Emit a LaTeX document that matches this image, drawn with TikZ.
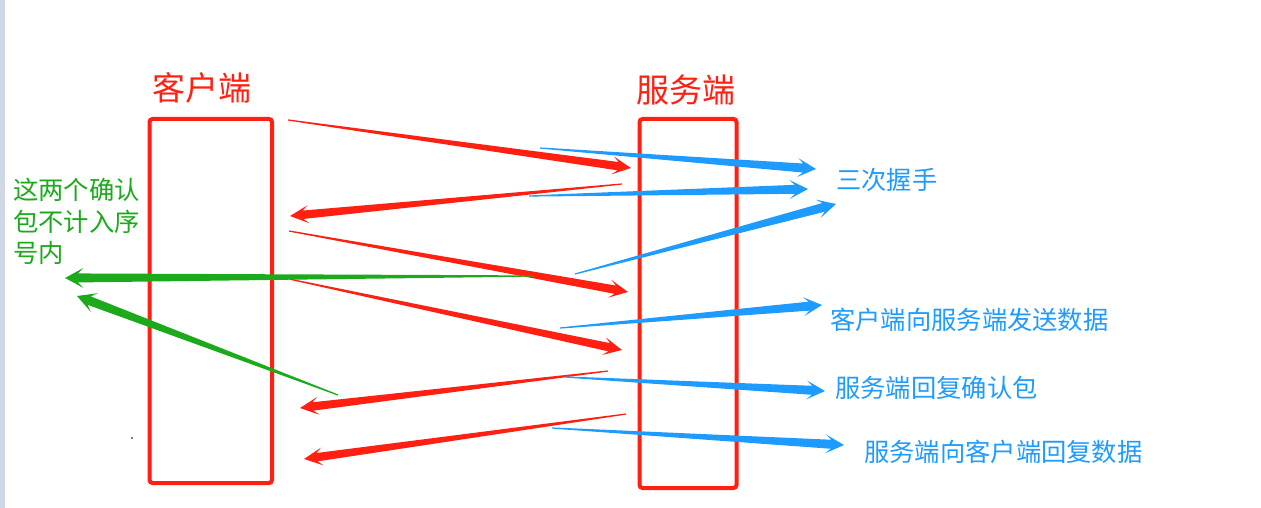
\documentclass[tikz,border=0pt]{standalone}
\usepackage{fontspec}
\setmainfont{Noto Sans CJK SC}
\usetikzlibrary{calc}
\definecolor{myred}{RGB}{255,32,18}
\definecolor{myblue}{RGB}{30,155,255}
\definecolor{mygreen}{RGB}{28,170,28}
\definecolor{edgegray}{RGB}{208,216,230}
\newcommand\tapArrow[6]{%
  \coordinate (tA) at ($(#2)!13pt!(#1)$);
  \coordinate (tB) at ($(#2)!18.5pt!(#1)$);
  \fill[#3] ($(#1)!#4!90:(#2)$) -- ($(tA)!#5!90:(#2)$) -- ($(tB)!#6!90:(#2)$) -- (#2)
    -- ($(tB)!#6!-90:(#2)$) -- ($(tA)!#5!-90:(#2)$) -- ($(#1)!#4!-90:(#2)$) -- cycle;
}
\tikzset{
  hostbox/.style={draw=myred, line width=4pt, rounded corners=3pt, inner sep=0pt},
  title/.style={text=myred, font=\fontsize{33}{36}\selectfont, inner sep=0pt},
  bluelabel/.style={text=myblue, font=\fontsize{25.3}{28}\selectfont, inner sep=0pt, anchor=west},
  greenlabel/.style={text=mygreen, font=\fontsize{25.3}{31.5}\selectfont, inner sep=0pt, anchor=north west, align=left},
}
\begin{document}
\begin{tikzpicture}[x=1pt,y=-1pt]
\useasboundingbox (0,0) rectangle (1261,508);
\fill[edgegray] (0,0) rectangle (5,508);
\fill[black] (132,438) circle (0.9pt);
% boxes
\node[hostbox, minimum width=122.5pt, minimum height=364pt] (client) at (210.75,301) {};
\node[hostbox, minimum width=97pt, minimum height=369pt] (server) at (688,303.5) {};
\node[title] (ctitle) at (202,88) {客户端};
\node[title] (stitle) at (686,90) {服务端};
% labels
\node[bluelabel] (l1) at (836,180) {三次握手};
\node[bluelabel] (l2) at (830,320) {客户端向服务端发送数据};
\node[bluelabel] (l3) at (835,388) {服务端回复确认包};
\node[bluelabel] (l4) at (864,452) {服务端向客户端回复数据};
\node[greenlabel] (g) at (13,178) {这两个确认\\包不计入序\\号内};
% coordinates
\coordinate (r1s) at (288,120); \coordinate (r1e) at (631,168);
\coordinate (r2s) at (622,184); \coordinate (r2e) at (290,216);
\coordinate (r3s) at (289,231); \coordinate (r3e) at (628,292);
\coordinate (r4s) at (289,279); \coordinate (r4e) at (622,350);
\coordinate (r5s) at (608,371); \coordinate (r5e) at (300,408);
\coordinate (r6s) at (626,414); \coordinate (r6e) at (304,459);
\coordinate (b1s) at (540,148); \coordinate (b1e) at (816,169);
\coordinate (b2s) at (529,196); \coordinate (b2e) at (808,189);
\coordinate (b3s) at (575,274); \coordinate (b3e) at (836,204);
\coordinate (b4s) at (560,328); \coordinate (b4e) at (822,305);
\coordinate (b5s) at (565,377); \coordinate (b5e) at (825,391);
\coordinate (b6s) at (552,428); \coordinate (b6e) at (844,445);
\coordinate (g1s) at (533,276); \coordinate (g1e) at (65,278);
\coordinate (g2s) at (338,395); \coordinate (g2e) at (77,296);
% red arrows
\tapArrow{r1s}{r1e}{myred}{0.6pt}{4.2pt}{9pt}
\tapArrow{r2s}{r2e}{myred}{0.6pt}{4.2pt}{9pt}
\tapArrow{r3s}{r3e}{myred}{0.6pt}{4.2pt}{9pt}
\tapArrow{r4s}{r4e}{myred}{0.6pt}{4.2pt}{9pt}
\tapArrow{r5s}{r5e}{myred}{0.6pt}{4.2pt}{9pt}
\tapArrow{r6s}{r6e}{myred}{0.6pt}{4.2pt}{9pt}
% blue arrows
\tapArrow{b1s}{b1e}{myblue}{0.6pt}{4.5pt}{9.5pt}
\tapArrow{b2s}{b2e}{myblue}{0.6pt}{4.5pt}{9.5pt}
\tapArrow{b3s}{b3e}{myblue}{0.6pt}{4.5pt}{9.5pt}
\tapArrow{b4s}{b4e}{myblue}{0.6pt}{4.5pt}{9.5pt}
\tapArrow{b5s}{b5e}{myblue}{0.6pt}{4.5pt}{9.5pt}
\tapArrow{b6s}{b6e}{myblue}{0.6pt}{4.5pt}{9.5pt}
% green arrows
\tapArrow{g1s}{g1e}{mygreen}{0.6pt}{4.5pt}{10pt}
\tapArrow{g2s}{g2e}{mygreen}{0.6pt}{4.5pt}{10pt}
\end{tikzpicture}
\end{document}
